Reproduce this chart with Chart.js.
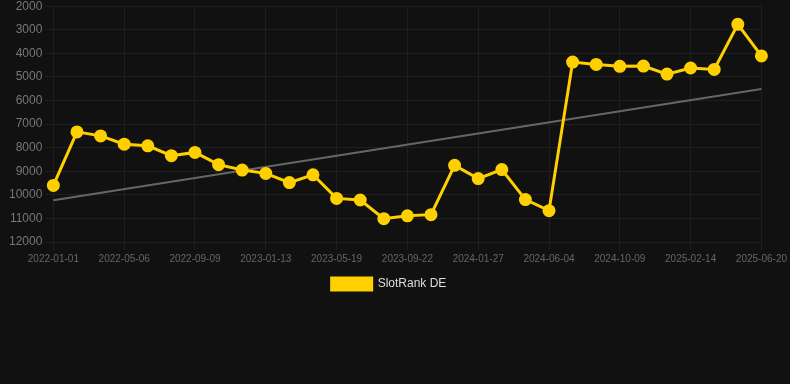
<!DOCTYPE html>
<html>
<head>
<meta charset="utf-8">
<script src="https://cdn.jsdelivr.net/npm/chart.js@4/dist/chart.umd.min.js"></script>
<style>
  html, body { margin: 0; padding: 0; background: #111111; overflow: hidden; }
  #wrap { width: 790px; height: 304px; position: relative; margin-top: -4px; }
</style>
</head>
<body>
<div id="wrap"><canvas id="c"></canvas></div>
<script>
const categories = [
  "2022-01-01","2022-02-12","2022-03-25","2022-05-06","2022-06-17","2022-07-29",
  "2022-09-09","2022-10-21","2022-12-02","2023-01-13","2023-02-24","2023-04-07",
  "2023-05-19","2023-06-30","2023-08-11","2023-09-22","2023-11-03","2023-12-15",
  "2024-01-27","2024-03-09","2024-04-22","2024-06-04","2024-07-16","2024-08-27",
  "2024-10-09","2024-11-20","2025-01-02","2025-02-14","2025-03-28","2025-05-09",
  "2025-06-20"
];
const slotRankDE = [
  9600, 7330, 7500, 7850, 7920, 8340, 8200, 8720, 8950, 9090, 9480, 9150,
  10150, 10220, 11010, 10890, 10840, 8750, 9310, 8930, 10200, 10670,
  4370, 4470, 4550, 4540, 4880, 4620, 4680, 2770, 4110
];
const trendEnds = [10230, 5510];
const yTicks = [2000, 3000, 4000, 5000, 6000, 7000, 8000, 9000, 10000, 11000, 12000];

const trendData = categories.map((_, i) =>
  i === 0 ? trendEnds[0] : (i === categories.length - 1 ? trendEnds[1] : null));

new Chart(document.getElementById('c'), {
  type: 'line',
  data: {
    labels: categories,
    datasets: [
      {
        label: 'SlotRank DE',
        data: slotRankDE,
        borderColor: '#FFD000',
        backgroundColor: '#FFD000',
        borderWidth: 3,
        pointRadius: 5,
        pointHoverRadius: 5,
        pointBackgroundColor: '#FFD000',
        pointBorderColor: '#FFD000',
        tension: 0
      },
      {
        label: 'Trend',
        data: trendData,
        spanGaps: true,
        borderColor: '#666666',
        borderWidth: 2,
        pointRadius: 0,
        fill: false
      }
    ]
  },
  options: {
    responsive: true,
    maintainAspectRatio: false,
    animation: false,
    layout: { padding: { left: 6, top: 0, right: 18, bottom: 0 } },
    plugins: {
      legend: {
        position: 'bottom',
        labels: {
          color: '#dddddd',
          font: { family: 'Liberation Sans, Arial, sans-serif', size: 12 },
          boxWidth: 40,
          filter: (item) => item.datasetIndex === 0
        }
      },
      tooltip: { enabled: false }
    },
    scales: {
      x: {
        grid: { color: '#1f1f1f', tickColor: '#1f1f1f' },
        border: { color: '#1f1f1f' },
        ticks: {
          color: '#666666',
          maxRotation: 0,
          autoSkip: true,
          maxTicksLimit: 11,
          font: { family: 'Liberation Sans, Arial, sans-serif', size: 10 }
        }
      },
      y: {
        reverse: true,
        min: 2000,
        max: 12000,
        afterBuildTicks: (axis) => { axis.ticks = yTicks.map(v => ({ value: v })); },
        grid: { color: '#1f1f1f', tickColor: '#1f1f1f' },
        border: { color: '#1f1f1f' },
        ticks: {
          color: '#777777',
          font: { family: 'Liberation Sans, Arial, sans-serif', size: 12 },
          callback: (v) => String(v)
        }
      }
    }
  }
});
</script>
</body>
</html>
